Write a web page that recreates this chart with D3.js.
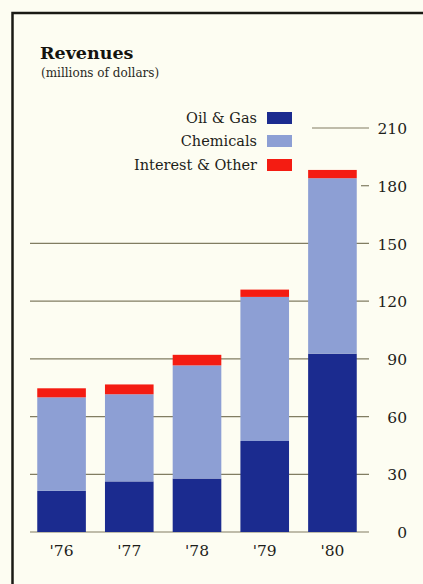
<!DOCTYPE html>
<html>
<head>
<meta charset="utf-8">
<script src="https://cdn.jsdelivr.net/npm/d3@7"></script>
<style>
  html, body { margin: 0; padding: 0; background: #fdfdf2; }
  svg { display: block; }
</style>
</head>
<body>
<script>
// Revenues by segment, millions of dollars
const years = ["'76", "'77", "'78", "'79", "'80"];
const oilGas = [21.4, 26.3, 27.8, 47.3, 92.7];
const chemicals = [48.6, 45.3, 58.8, 74.9, 91.2];
const interestOther = [4.7, 5.1, 5.5, 3.8, 4.3];
const seriesNames = ["Oil & Gas", "Chemicals", "Interest & Other"];
const seriesColors = ["#1b2b8f", "#8d9fd4", "#f41c12"];
const tickValues = [0, 30, 60, 90, 120, 150, 180, 210];

const W = 423, H = 584;
const serif = "'DejaVu Serif', serif";

const svg = d3.select("body").append("svg")
  .attr("width", W).attr("height", H);

svg.append("rect").attr("width", W).attr("height", H).attr("fill", "#fdfdf2");

// frame
svg.append("path")
  .attr("d", `M${W},13 H12.5 V${H}`)
  .attr("fill", "none").attr("stroke", "#1a1a14").attr("stroke-width", 2.5);

const rows = years.map((y, i) => ({
  year: y,
  "Oil & Gas": oilGas[i],
  "Chemicals": chemicals[i],
  "Interest & Other": interestOther[i]
}));
const stacked = d3.stack().keys(seriesNames)(rows);

const x = d3.scaleBand().domain(years)
  .range([27.7, 366.3]).paddingInner(0.282).paddingOuter(0.141);
const y = d3.scaleLinear().domain([0, 210]).range([532, 128]);

// grid lines
const gridColor = "#817d62";
const grid = svg.append("g");
tickValues.forEach(v => {
  let x0 = 30, x1 = 369;
  if (v === 180) x0 = 361;
  if (v === 210) x0 = 312;
  grid.append("line")
    .attr("x1", x0).attr("x2", x1)
    .attr("y1", y(v)).attr("y2", y(v))
    .attr("stroke", gridColor).attr("stroke-width", 1.2);
});

// stacked bars
svg.append("g").selectAll("g").data(stacked).join("g")
  .attr("fill", (d, i) => seriesColors[i])
  .selectAll("rect").data(d => d).join("rect")
  .attr("x", d => x(d.data.year))
  .attr("width", x.bandwidth())
  .attr("y", d => y(d[1]))
  .attr("height", d => y(d[0]) - y(d[1]));

// value axis labels
const yAxis = d3.axisRight(y).tickValues(tickValues).tickSize(0).tickPadding(0);
const ya = svg.append("g").attr("transform", "translate(407,0)").call(yAxis);
ya.select(".domain").remove();
ya.selectAll("text")
  .attr("text-anchor", "end")
  .attr("x", 0).attr("dy", "0.36em")
  .attr("font-family", serif).attr("font-size", 15.5).attr("fill", "#1e1e1a");

// year labels
const xAxis = d3.axisBottom(x).tickSize(0).tickPadding(0);
const xa = svg.append("g").attr("transform", "translate(0,556)").call(xAxis);
xa.select(".domain").remove();
xa.selectAll("text")
  .attr("dy", 0).attr("y", 0)
  .attr("font-family", serif).attr("font-size", 15.5).attr("fill", "#1e1e1a");

// title
svg.append("text").attr("x", 40).attr("y", 59)
  .attr("font-family", serif).attr("font-weight", "bold").attr("font-size", 17.5)
  .attr("fill", "#15140f").text("Revenues");
svg.append("text").attr("x", 41).attr("y", 77)
  .attr("font-family", serif).attr("font-size", 12)
  .attr("fill", "#2a2a24").text("(millions of dollars)");

// legend
const legend = svg.append("g");
const legendY = [112, 135, 159];
seriesNames.forEach((name, i) => {
  legend.append("rect")
    .attr("x", 267).attr("y", legendY[i])
    .attr("width", 25).attr("height", 12)
    .attr("fill", seriesColors[i]);
  legend.append("text")
    .attr("x", 257).attr("y", legendY[i] + 11)
    .attr("text-anchor", "end")
    .attr("font-family", serif).attr("font-size", 14.5)
    .attr("fill", "#1e1e1a").text(name);
});
</script>
</body>
</html>
